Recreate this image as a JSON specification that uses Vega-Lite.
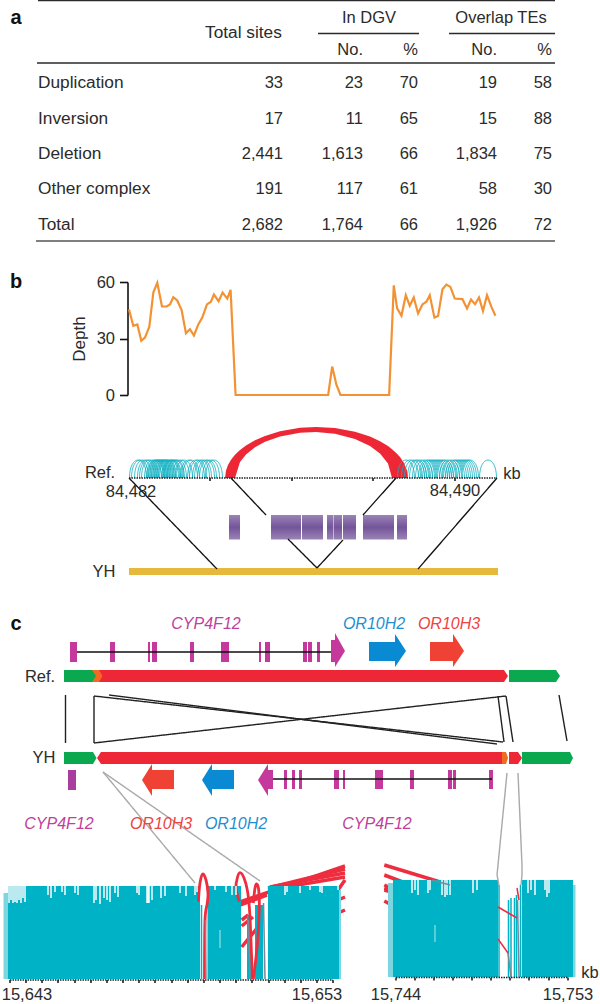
{"$schema":"https://vega.github.io/schema/vega-lite/v6.json","width":600,"height":1004,"padding":0,"autosize":{"type":"none"},"background":"white","config":{"view":{"stroke":null},"font":"Liberation Sans"},
"datasets":{
"ctext":[{"t":"In DGV","x":369,"y":18},{"t":"Overlap TEs","x":501,"y":18},{"t":"Ref.","x":100,"y":473},{"t":"84,482","x":131,"y":492},{"t":"84,490","x":455,"y":491},{"t":"kb","x":512,"y":474},{"t":"YH","x":104,"y":572},{"t":"Ref.","x":40,"y":677},{"t":"YH","x":44,"y":758},{"t":"15,643","x":27,"y":995},{"t":"15,653","x":317,"y":995},{"t":"15,744","x":396,"y":995},{"t":"15,753","x":568,"y":995},{"t":"kb","x":590,"y":973}],
"ltext":[{"t":"Total sites","x":205,"y":33},{"t":"Duplication","x":38,"y":83},{"t":"Inversion","x":38,"y":119},{"t":"Deletion","x":38,"y":154},{"t":"Other complex","x":38,"y":189},{"t":"Total","x":38,"y":225}],
"rtext":[{"t":"No.","x":363,"y":50},{"t":"%","x":418,"y":50},{"t":"No.","x":497,"y":50},{"t":"%","x":552,"y":50},
{"t":"33","x":283,"y":83},{"t":"23","x":363,"y":83},{"t":"70","x":418,"y":83},{"t":"19","x":497,"y":83},{"t":"58","x":552,"y":83},
{"t":"17","x":283,"y":119},{"t":"11","x":363,"y":119},{"t":"65","x":418,"y":119},{"t":"15","x":497,"y":119},{"t":"88","x":552,"y":119},
{"t":"2,441","x":283,"y":154},{"t":"1,613","x":363,"y":154},{"t":"66","x":418,"y":154},{"t":"1,834","x":497,"y":154},{"t":"75","x":552,"y":154},
{"t":"191","x":283,"y":189},{"t":"117","x":363,"y":189},{"t":"61","x":418,"y":189},{"t":"58","x":497,"y":189},{"t":"30","x":552,"y":189},
{"t":"2,682","x":283,"y":225},{"t":"1,764","x":363,"y":225},{"t":"66","x":418,"y":225},{"t":"1,926","x":497,"y":225},{"t":"72","x":552,"y":225}],
"btext":[{"t":"a","x":16,"y":18},{"t":"b","x":16,"y":282},{"t":"c","x":16,"y":624}],
"itext":[{"t":"CYP4F12","x":206,"y":624,"g":"m"},{"t":"OR10H2","x":374,"y":624,"g":"b"},{"t":"OR10H3","x":449,"y":624,"g":"r"},{"t":"CYP4F12","x":59,"y":824,"g":"m"},{"t":"OR10H3","x":161,"y":824,"g":"r"},{"t":"OR10H2","x":236,"y":824,"g":"b"},{"t":"CYP4F12","x":377,"y":824,"g":"m"}],
"depth":[{"kb":84482,"d":45.4},{"kb":84482.106,"d":36.7},{"kb":84482.205,"d":37.5},{"kb":84482.303,"d":28.8},{"kb":84482.393,"d":30.5},{"kb":84482.5,"d":36.3},{"kb":84482.598,"d":54.4},{"kb":84482.696,"d":59.6},{"kb":84482.811,"d":47},{"kb":84482.925,"d":47},{"kb":84483.007,"d":48.1},{"kb":84483.089,"d":51.9},{"kb":84483.187,"d":50.2},{"kb":84483.294,"d":45.1},{"kb":84483.4,"d":32.8},{"kb":84483.499,"d":34.9},{"kb":84483.597,"d":31.6},{"kb":84483.704,"d":37.5},{"kb":84483.802,"d":41.1},{"kb":84483.917,"d":48.1},{"kb":84484.015,"d":49.5},{"kb":84484.088,"d":53.3},{"kb":84484.203,"d":49.8},{"kb":84484.302,"d":54.4},{"kb":84484.416,"d":51.2},{"kb":84484.498,"d":55.8},{"kb":84484.621,"d":0},{"kb":84486.898,"d":0},{"kb":84486.996,"d":15.1},{"kb":84487.102,"d":5.3},{"kb":84487.2,"d":0},{"kb":84488.397,"d":0},{"kb":84488.511,"d":58.2},{"kb":84488.593,"d":46},{"kb":84488.7,"d":42.1},{"kb":84488.806,"d":53},{"kb":84488.904,"d":47.4},{"kb":84489.002,"d":51.8},{"kb":84489.108,"d":43.3},{"kb":84489.216,"d":48.1},{"kb":84489.314,"d":49.5},{"kb":84489.396,"d":53},{"kb":84489.51,"d":41.1},{"kb":84489.6,"d":41.9},{"kb":84489.708,"d":56.1},{"kb":84489.806,"d":58.6},{"kb":84489.904,"d":57.4},{"kb":84490.01,"d":51.2},{"kb":84490.199,"d":50.9},{"kb":84490.312,"d":46},{"kb":84490.41,"d":50.7},{"kb":84490.509,"d":48.2},{"kb":84490.607,"d":51.8},{"kb":84490.705,"d":44.6},{"kb":84490.803,"d":53},{"kb":84490.912,"d":46.8},{"kb":84491.01,"d":42.1}],
"arcs":[{"x":138,"y":478},{"x":140,"y":478},{"x":143,"y":478},{"x":146,"y":478},{"x":148,"y":478},{"x":150,"y":478},{"x":153,"y":478},{"x":155,"y":478},{"x":156,"y":478},{"x":157,"y":478},{"x":158,"y":478},{"x":159,"y":478},{"x":160,"y":478},{"x":161,"y":478},{"x":162,"y":478},{"x":163,"y":478},{"x":164,"y":478},{"x":165,"y":478},{"x":166,"y":478},{"x":167,"y":478},{"x":168,"y":478},{"x":170,"y":478},{"x":171,"y":478},{"x":172,"y":478},{"x":173,"y":478},{"x":175,"y":478},{"x":176,"y":478},{"x":178,"y":478},{"x":181,"y":478},{"x":184,"y":478},{"x":189,"y":478},{"x":191,"y":478},{"x":196,"y":478},{"x":198,"y":478},{"x":201,"y":478},{"x":203,"y":478},{"x":206,"y":478},{"x":208,"y":478},{"x":211,"y":478},{"x":214,"y":478},{"x":406,"y":478},{"x":410,"y":478},{"x":413,"y":478},{"x":416,"y":478},{"x":418,"y":478},{"x":421,"y":478},{"x":424,"y":478},{"x":427,"y":478},{"x":429,"y":478},{"x":431,"y":478},{"x":433,"y":478},{"x":435,"y":478},{"x":437,"y":478},{"x":439,"y":478},{"x":441,"y":478},{"x":443,"y":478},{"x":445,"y":478},{"x":448,"y":478},{"x":451,"y":478},{"x":454,"y":478},{"x":456,"y":478},{"x":458,"y":478},{"x":460,"y":478},{"x":462,"y":478},{"x":464,"y":478},{"x":466,"y":478},{"x":468,"y":478},{"x":470,"y":478},{"x":488,"y":478}],
"shapes":[
{"id":"arch","p":"red","x":225,"y":478,"y2":478},{"id":"arch","p":"red","x":226,"y":470.4,"y2":478},{"id":"arch","p":"red","x":228,"y":465,"y2":478},{"id":"arch","p":"red","x":231,"y":459.8,"y2":478},{"id":"arch","p":"red","x":235,"y":454.8,"y2":478},{"id":"arch","p":"red","x":240,"y":450,"y2":461.9},{"id":"arch","p":"red","x":246,"y":445.5,"y2":454.5},{"id":"arch","p":"red","x":255,"y":440.2,"y2":447.3},{"id":"arch","p":"red","x":265,"y":435.9,"y2":441.8},{"id":"arch","p":"red","x":280,"y":431.2,"y2":436.4},{"id":"arch","p":"red","x":300,"y":427.8,"y2":432.7},{"id":"arch","p":"red","x":316,"y":427,"y2":432},{"id":"arch","p":"red","x":335,"y":428,"y2":433.7},{"id":"arch","p":"red","x":355,"y":431.7,"y2":439},{"id":"arch","p":"red","x":370,"y":436.6,"y2":446},{"id":"arch","p":"red","x":380,"y":441.3,"y2":453.6},{"id":"arch","p":"red","x":388,"y":446.1,"y2":463.5},{"id":"arch","p":"red","x":392,"y":449.2,"y2":478},{"id":"arch","p":"red","x":396,"y":452.8,"y2":478},{"id":"arch","p":"red","x":400,"y":457.1,"y2":478},{"id":"arch","p":"red","x":404,"y":463,"y2":478},{"id":"arch","p":"red","x":407,"y":470.4,"y2":478},{"id":"arch","p":"red","x":408,"y":478,"y2":478},
{"id":"rr","p":"red","x":99,"y":670,"y2":682},{"id":"rr","p":"red","x":504,"y":670,"y2":682},{"id":"rr","p":"red","x":508,"y":676,"y2":676},
{"id":"ro","p":"orange","x":92,"y":670,"y2":682},{"id":"ro","p":"orange","x":99,"y":670,"y2":682},{"id":"ro","p":"orange","x":102.5,"y":676,"y2":676},
{"id":"rg1","p":"green","x":64,"y":670,"y2":682},{"id":"rg1","p":"green","x":92,"y":670,"y2":682},{"id":"rg1","p":"green","x":96,"y":676,"y2":676},
{"id":"rg2","p":"green","x":509,"y":670,"y2":682},{"id":"rg2","p":"green","x":556,"y":670,"y2":682},{"id":"rg2","p":"green","x":560,"y":676,"y2":676},
{"id":"yr","p":"red","x":97,"y":758,"y2":758},{"id":"yr","p":"red","x":101,"y":752,"y2":764},{"id":"yr","p":"red","x":502,"y":752,"y2":764},
{"id":"yo","p":"orange","x":502,"y":752,"y2":764},{"id":"yo","p":"orange","x":506,"y":752,"y2":764},{"id":"yo","p":"orange","x":508,"y":758,"y2":758},
{"id":"yr2","p":"red","x":509,"y":752,"y2":764},{"id":"yr2","p":"red","x":518,"y":752,"y2":764},{"id":"yr2","p":"red","x":522,"y":758,"y2":758},
{"id":"yg1","p":"green","x":64,"y":752,"y2":764},{"id":"yg1","p":"green","x":93,"y":752,"y2":764},{"id":"yg1","p":"green","x":96.5,"y":758,"y2":758},
{"id":"yg2","p":"green","x":522,"y":752,"y2":764},{"id":"yg2","p":"green","x":570,"y":752,"y2":764},{"id":"yg2","p":"green","x":573,"y":758,"y2":758},
{"id":"a1","p":"magenta","x":331,"y":640,"y2":662},{"id":"a1","p":"magenta","x":335,"y":640,"y2":662},{"id":"a1","p":"magenta","x":335,"y":633,"y2":667},{"id":"a1","p":"magenta","x":345,"y":651,"y2":651},
{"id":"a2","p":"blue","x":369,"y":642,"y2":661},{"id":"a2","p":"blue","x":395,"y":642,"y2":661},{"id":"a2","p":"blue","x":395,"y":634,"y2":667},{"id":"a2","p":"blue","x":406,"y":651,"y2":651},
{"id":"a3","p":"tomato","x":430,"y":642,"y2":661},{"id":"a3","p":"tomato","x":453,"y":642,"y2":661},{"id":"a3","p":"tomato","x":453,"y":634,"y2":667},{"id":"a3","p":"tomato","x":464,"y":651,"y2":651},
{"id":"a4","p":"tomato","x":142,"y":780,"y2":780},{"id":"a4","p":"tomato","x":152,"y":764,"y2":796},{"id":"a4","p":"tomato","x":152,"y":770,"y2":789},{"id":"a4","p":"tomato","x":174,"y":770,"y2":789},
{"id":"a5","p":"blue","x":202,"y":780,"y2":780},{"id":"a5","p":"blue","x":212,"y":764,"y2":796},{"id":"a5","p":"blue","x":212,"y":770,"y2":789},{"id":"a5","p":"blue","x":234,"y":770,"y2":789},
{"id":"a6","p":"magenta","x":258,"y":780,"y2":780},{"id":"a6","p":"magenta","x":268,"y":764,"y2":796},{"id":"a6","p":"magenta","x":268,"y":770,"y2":789},{"id":"a6","p":"magenta","x":273,"y":770,"y2":789}],
"purple":[{"x":229,"x2":240,"y":515,"y2":539.5},{"x":271,"x2":301,"y":515,"y2":539.5},{"x":302,"x2":323,"y":515,"y2":539.5},{"x":327,"x2":333,"y":515,"y2":539.5},{"x":333.5,"x2":342,"y":515,"y2":539.5},{"x":343,"x2":356,"y":515,"y2":539.5},{"x":363,"x2":394,"y":515,"y2":539.5},{"x":397,"x2":407,"y":515,"y2":539.5}],
"boxes":[{"x":129,"x2":498,"y":568,"y2":575,"k":"yh"},
{"x":70,"x2":77,"y":642,"y2":662,"k":"mag"},{"x":110,"x2":115,"y":642,"y2":662,"k":"mag"},{"x":148,"x2":150,"y":642,"y2":662,"k":"mag"},{"x":152,"x2":157,"y":642,"y2":662,"k":"mag"},{"x":190,"x2":194,"y":642,"y2":662,"k":"mag"},{"x":221,"x2":229,"y":642,"y2":662,"k":"mag"},{"x":259,"x2":261,"y":642,"y2":662,"k":"mag"},{"x":265,"x2":270,"y":642,"y2":662,"k":"mag"},{"x":303,"x2":307,"y":642,"y2":662,"k":"mag"},{"x":308,"x2":312,"y":642,"y2":662,"k":"mag"},{"x":317,"x2":320,"y":642,"y2":662,"k":"mag"},
{"x":68,"x2":76,"y":770,"y2":790,"k":"mag2"},{"x":284,"x2":287,"y":770,"y2":789,"k":"mag"},{"x":292,"x2":295,"y":770,"y2":789,"k":"mag"},{"x":299,"x2":302,"y":770,"y2":789,"k":"mag"},{"x":334,"x2":339,"y":770,"y2":789,"k":"mag"},{"x":343,"x2":345,"y":770,"y2":789,"k":"mag"},{"x":375,"x2":383,"y":770,"y2":789,"k":"mag"},{"x":410,"x2":414,"y":770,"y2":789,"k":"mag"},{"x":448,"x2":452,"y":770,"y2":789,"k":"mag"},{"x":453,"x2":456,"y":770,"y2":789,"k":"mag"},{"x":489,"x2":493,"y":770,"y2":789,"k":"mag"},
{"x":3.5,"x2":8,"y":893,"y2":979,"k":"light"},{"x":8,"x2":200,"y":886,"y2":979,"k":"teal"},{"x":207.5,"x2":241,"y":886,"y2":979,"k":"teal"},{"x":247,"x2":251,"y":915,"y2":979,"k":"teal"},{"x":255,"x2":263,"y":905,"y2":979,"k":"teal"},{"x":268,"x2":339,"y":886,"y2":979,"k":"teal"},{"x":339,"x2":341,"y":890,"y2":979,"k":"light"},
{"x":388,"x2":393,"y":883,"y2":977,"k":"light"},{"x":393,"x2":498,"y":880,"y2":977,"k":"teal"},{"x":522,"x2":573,"y":880,"y2":977,"k":"teal"},{"x":573,"x2":575.5,"y":885,"y2":977,"k":"light"}],
"under":[{"x":240.7,"x2":345,"y":901.7,"y2":866},{"x":268,"x2":345,"y":888,"y2":869},{"x":240,"x2":267,"y":905,"y2":895},{"x":270,"x2":345,"y":887,"y2":873},{"x":268,"x2":345,"y":890,"y2":877},{"x":338,"x2":345,"y":890,"y2":880},{"x":338,"x2":345,"y":900,"y2":897},{"x":338,"x2":345,"y":913,"y2":910},{"x":241.7,"x2":248.3,"y":920,"y2":915},{"x":241.7,"x2":253,"y":926,"y2":917},{"x":241.7,"x2":258,"y":947,"y2":927},{"x":384.3,"x2":450,"y":865,"y2":885},{"x":384.3,"x2":431.7,"y":875,"y2":893},{"x":384.3,"x2":395,"y":885,"y2":890},{"x":384.3,"x2":395,"y":888,"y2":891},{"x":384.3,"x2":395,"y":890,"y2":893},{"x":384.3,"x2":391.7,"y":901,"y2":905}],
"rules":[
{"x":38,"x2":555,"y":0.5,"y2":0.5,"k":"table"},{"x":318,"x2":419,"y":33.5,"y2":33.5,"k":"table"},{"x":449,"x2":555,"y":33.5,"y2":33.5,"k":"table"},{"x":37,"x2":555,"y":63,"y2":63,"k":"table"},{"x":36,"x2":555,"y":241,"y2":241,"k":"tableb"},
{"x":129,"x2":217,"y":478,"y2":569,"k":"conn"},{"x":231,"x2":266,"y":478,"y2":515,"k":"conn"},{"x":288,"x2":317,"y":539,"y2":568,"k":"conn"},{"x":317,"x2":343,"y":568,"y2":540,"k":"conn"},{"x":396,"x2":363,"y":478,"y2":515,"k":"conn"},{"x":497,"x2":418,"y":478,"y2":569,"k":"conn"},
{"x":77,"x2":331,"y":652,"y2":652,"k":"intron"},{"x":273,"x2":492,"y":779,"y2":779,"k":"intron"},
{"x":65.5,"x2":65.5,"y":695,"y2":743,"k":"thin"},{"x":94,"x2":94,"y":743,"y2":696,"k":"thin"},{"x":94,"x2":503,"y":696,"y2":742,"k":"thin"},{"x":94,"x2":506,"y":743,"y2":696,"k":"thin"},{"x":506,"x2":513,"y":696,"y2":742,"k":"thin"},{"x":109,"x2":497,"y":695,"y2":744,"k":"thin"},{"x":498,"x2":504,"y":696,"y2":742,"k":"thin"},{"x":559,"x2":567,"y":695,"y2":741,"k":"thin"},
{"x":103,"x2":195,"y":772,"y2":883,"k":"gray"},{"x":103,"x2":260,"y":772,"y2":881,"k":"gray"},{"x":507,"x2":498,"y":773,"y2":865,"k":"gray"},{"x":498,"x2":497,"y":865,"y2":875,"k":"gray"},{"x":497,"x2":499,"y":875,"y2":885,"k":"gray"},{"x":518,"x2":522,"y":773,"y2":865,"k":"gray"},{"x":522,"x2":522,"y":865,"y2":875,"k":"gray"},{"x":522,"x2":521,"y":875,"y2":885,"k":"gray"},
{"x":9,"x2":9,"y":886,"y2":903,"k":"white"},{"x":11,"x2":11,"y":886,"y2":900,"k":"white"},{"x":13,"x2":13,"y":886,"y2":903,"k":"white"},{"x":15,"x2":15,"y":886,"y2":902,"k":"white"},{"x":17,"x2":17,"y":886,"y2":903,"k":"white"},{"x":19,"x2":19,"y":886,"y2":900,"k":"white"},{"x":21,"x2":21,"y":886,"y2":903,"k":"white"},{"x":23,"x2":23,"y":886,"y2":898,"k":"white"},{"x":25,"x2":25,"y":886,"y2":902,"k":"white"},{"x":48,"x2":48,"y":886,"y2":895,"k":"white"},{"x":51,"x2":51,"y":886,"y2":898,"k":"white"},{"x":55,"x2":55,"y":886,"y2":892,"k":"white"},{"x":62,"x2":62,"y":886,"y2":892,"k":"white"},{"x":65,"x2":65,"y":886,"y2":895,"k":"white"},{"x":75,"x2":75,"y":886,"y2":893,"k":"white"},{"x":78,"x2":78,"y":886,"y2":895,"k":"white"},{"x":94,"x2":94,"y":886,"y2":903,"k":"white"},{"x":96,"x2":96,"y":886,"y2":900,"k":"white"},{"x":100,"x2":100,"y":886,"y2":904,"k":"white"},{"x":104,"x2":104,"y":886,"y2":898,"k":"white"},{"x":107,"x2":107,"y":886,"y2":900,"k":"white"},{"x":110,"x2":110,"y":886,"y2":902,"k":"white"},{"x":115,"x2":115,"y":886,"y2":893,"k":"white"},{"x":118,"x2":118,"y":886,"y2":897,"k":"white"},{"x":137,"x2":137,"y":886,"y2":893,"k":"white"},{"x":139,"x2":139,"y":886,"y2":895,"k":"white"},{"x":147,"x2":147,"y":886,"y2":903,"k":"white"},{"x":148,"x2":148,"y":886,"y2":903,"k":"white"},{"x":149,"x2":149,"y":886,"y2":903,"k":"white"},{"x":152,"x2":152,"y":886,"y2":900,"k":"white"},{"x":161,"x2":161,"y":886,"y2":898,"k":"white"},{"x":165,"x2":165,"y":886,"y2":896,"k":"white"},{"x":180,"x2":180,"y":886,"y2":893,"k":"white"},{"x":186,"x2":186,"y":886,"y2":896,"k":"white"},{"x":195,"x2":195,"y":886,"y2":895,"k":"white"},{"x":197,"x2":197,"y":886,"y2":892,"k":"white"},{"x":215,"x2":215,"y":886,"y2":890,"k":"white"},{"x":226,"x2":226,"y":886,"y2":892,"k":"white"},{"x":232,"x2":232,"y":886,"y2":895,"k":"white"},{"x":236,"x2":236,"y":886,"y2":895,"k":"white"},{"x":285,"x2":285,"y":886,"y2":895,"k":"white"},{"x":287,"x2":287,"y":886,"y2":892,"k":"white"},{"x":300,"x2":300,"y":886,"y2":893,"k":"white"},{"x":310,"x2":310,"y":886,"y2":890,"k":"white"},{"x":320,"x2":320,"y":886,"y2":892,"k":"white"},{"x":322,"x2":322,"y":886,"y2":893,"k":"white"},{"x":338,"x2":338,"y":886,"y2":890,"k":"white"},
{"x":412,"x2":412,"y":880,"y2":893,"k":"white"},{"x":415,"x2":415,"y":880,"y2":890,"k":"white"},{"x":418,"x2":418,"y":880,"y2":895,"k":"white"},{"x":428,"x2":428,"y":880,"y2":893,"k":"white"},{"x":430,"x2":430,"y":880,"y2":890,"k":"white"},{"x":442,"x2":442,"y":880,"y2":895,"k":"white"},{"x":445,"x2":445,"y":880,"y2":897,"k":"white"},{"x":447,"x2":447,"y":880,"y2":895,"k":"white"},{"x":450,"x2":450,"y":880,"y2":895,"k":"white"},{"x":473,"x2":473,"y":880,"y2":893,"k":"white"},{"x":477,"x2":477,"y":880,"y2":890,"k":"white"},{"x":528,"x2":528,"y":880,"y2":893,"k":"white"},{"x":531,"x2":531,"y":880,"y2":890,"k":"white"},{"x":535,"x2":535,"y":880,"y2":895,"k":"white"},{"x":545,"x2":545,"y":880,"y2":890,"k":"white"},{"x":547,"x2":547,"y":880,"y2":897,"k":"white"},{"x":549,"x2":549,"y":880,"y2":893,"k":"white"},{"x":435,"x2":435,"y":925,"y2":942,"k":"light2"},{"x":220,"x2":220,"y":930,"y2":948,"k":"light2"},
{"x":201.5,"x2":201.5,"y":905,"y2":979,"k":"tthin"},{"x":499,"x2":499,"y":885,"y2":977,"k":"tthin"},{"x":508.5,"x2":508.5,"y":900,"y2":977,"k":"tthin"},{"x":511,"x2":511,"y":898,"y2":977,"k":"tthin"},{"x":514.5,"x2":514.5,"y":898,"y2":977,"k":"tthin"},{"x":516.5,"x2":516.5,"y":895,"y2":977,"k":"tthin"},{"x":520.5,"x2":520.5,"y":885,"y2":977,"k":"tthin"},
{"x":432,"x2":450,"y":880,"y2":885,"k":"gline"},{"x":248.5,"x2":250,"y":920,"y2":979,"k":"gline"},{"x":263.5,"x2":265,"y":903,"y2":979,"k":"gline"},{"x":205.5,"x2":206,"y":920,"y2":979,"k":"gline"},{"x":498,"x2":517,"y":907,"y2":918,"k":"rthin"},{"x":498,"x2":508,"y":939,"y2":953,"k":"rthin"},{"x":508,"x2":511,"y":953,"y2":977,"k":"gline"},{"x":517,"x2":519,"y":888,"y2":900,"k":"rthin"},{"x":517.5,"x2":519,"y":900,"y2":977,"k":"gline"},
{"x":129,"x2":497,"y":478,"y2":478,"k":"dot"},{"x":10,"x2":333,"y":980,"y2":980,"k":"dot"},{"x":396,"x2":568,"y":977.5,"y2":977.5,"k":"dot"},
{"x":210,"x2":210,"y":478,"y2":481,"k":"tick"},{"x":292,"x2":292,"y":478,"y2":481,"k":"tick"},{"x":373,"x2":373,"y":478,"y2":481,"k":"tick"},{"x":455,"x2":455,"y":478,"y2":481,"k":"tick"},
{"x":10,"x2":10,"y":980,"y2":983,"k":"tick"},{"x":26,"x2":26,"y":980,"y2":983,"k":"tick"},{"x":42,"x2":42,"y":980,"y2":983,"k":"tick"},{"x":58,"x2":58,"y":980,"y2":983,"k":"tick"},{"x":75,"x2":75,"y":980,"y2":983,"k":"tick"},{"x":91,"x2":91,"y":980,"y2":983,"k":"tick"},{"x":107,"x2":107,"y":980,"y2":983,"k":"tick"},{"x":123,"x2":123,"y":980,"y2":983,"k":"tick"},{"x":139,"x2":139,"y":980,"y2":983,"k":"tick"},{"x":155,"x2":155,"y":980,"y2":983,"k":"tick"},{"x":172,"x2":172,"y":980,"y2":983,"k":"tick"},{"x":188,"x2":188,"y":980,"y2":983,"k":"tick"},{"x":204,"x2":204,"y":980,"y2":983,"k":"tick"},{"x":220,"x2":220,"y":980,"y2":983,"k":"tick"},{"x":236,"x2":236,"y":980,"y2":983,"k":"tick"},{"x":252,"x2":252,"y":980,"y2":983,"k":"tick"},{"x":269,"x2":269,"y":980,"y2":983,"k":"tick"},{"x":285,"x2":285,"y":980,"y2":983,"k":"tick"},{"x":301,"x2":301,"y":980,"y2":983,"k":"tick"},{"x":317,"x2":317,"y":980,"y2":983,"k":"tick"},{"x":333,"x2":333,"y":980,"y2":983,"k":"tick"},
{"x":396,"x2":396,"y":977.5,"y2":980.5,"k":"tick"},{"x":415,"x2":415,"y":977.5,"y2":980.5,"k":"tick"},{"x":434,"x2":434,"y":977.5,"y2":980.5,"k":"tick"},{"x":453,"x2":453,"y":977.5,"y2":980.5,"k":"tick"},{"x":472,"x2":472,"y":977.5,"y2":980.5,"k":"tick"},{"x":491,"x2":491,"y":977.5,"y2":980.5,"k":"tick"},{"x":510,"x2":510,"y":977.5,"y2":980.5,"k":"tick"},{"x":529,"x2":529,"y":977.5,"y2":980.5,"k":"tick"},{"x":549,"x2":549,"y":977.5,"y2":980.5,"k":"tick"},{"x":568,"x2":568,"y":977.5,"y2":980.5,"k":"tick"}],
"curves":[
{"id":"a1","i":1,"x":198.3,"y":901.7},{"id":"a1","i":2,"x":200,"y":883},{"id":"a1","i":3,"x":202.7,"y":874},{"id":"a1","i":4,"x":206,"y":880},{"id":"a1","i":5,"x":208,"y":893},{"id":"a1","i":6,"x":207.3,"y":903},{"id":"a1","i":7,"x":205,"y":920},{"id":"a1","i":8,"x":204.5,"y":979},
{"id":"a2","i":1,"x":239.3,"y":901.7},{"id":"a2","i":2,"x":236,"y":888},{"id":"a2","i":3,"x":237.3,"y":878},{"id":"a2","i":4,"x":240,"y":872.7},{"id":"a2","i":5,"x":244,"y":878},{"id":"a2","i":6,"x":247.3,"y":890},{"id":"a2","i":7,"x":249.3,"y":906.7},{"id":"a2","i":8,"x":250.7,"y":933},{"id":"a2","i":9,"x":252.3,"y":979},
{"id":"a3","i":1,"x":253.3,"y":903},{"id":"a3","i":2,"x":255,"y":888},{"id":"a3","i":3,"x":256.7,"y":884},{"id":"a3","i":4,"x":258.7,"y":890},{"id":"a3","i":5,"x":259.3,"y":906.7},{"id":"a3","i":6,"x":257.5,"y":943},{"id":"a3","i":7,"x":253.3,"y":979}]
},
"resolve":{"scale":{"x":"independent","y":"independent"},"axis":{"x":"independent","y":"independent"}},
"layer":[
{"resolve":{"scale":{"color":"independent","strokeWidth":"independent","strokeDash":"independent"}},"encoding":{"x":{"field":"x","type":"quantitative","axis":null,"scale":{"domain":[0,600],"nice":false,"zero":false}},"y":{"field":"y","type":"quantitative","axis":null,"scale":{"domain":[0,1004],"reverse":true,"nice":false,"zero":false}}},
"layer":[
{"data":{"name":"shapes"},"mark":{"type":"area","opacity":1},"encoding":{"y2":{"field":"y2"},"detail":{"field":"id"},"color":{"field":"p","type":"nominal","legend":null,"scale":{"domain":["red","orange","green","magenta","blue","tomato"],"range":["#ee2737","#f26a22","#0aa84f","#c6399c","#0a8ad2","#f04234"]}}}},
{"data":{"name":"arcs"},"mark":{"type":"point","shape":"M-1,0C-1,-2.82,1,-2.82,1,0","size":289,"filled":false,"stroke":"#0fb0c2","strokeWidth":0.8,"opacity":1}},
{"data":{"name":"under"},"mark":{"type":"rule","stroke":"#ee2d3f","strokeWidth":3.5},"encoding":{"x2":{"field":"x2"},"y2":{"field":"y2"}}},
{"data":{"name":"purple"},"mark":{"type":"rect","fill":{"gradient":"linear","x1":0,"y1":0,"x2":0,"y2":1,"stops":[{"offset":0,"color":"#9a84b5"},{"offset":0.5,"color":"#74549a"},{"offset":1,"color":"#9a84b5"}]}},"encoding":{"x2":{"field":"x2"},"y2":{"field":"y2"}}},
{"data":{"name":"boxes"},"mark":{"type":"rect"},"encoding":{"x2":{"field":"x2"},"y2":{"field":"y2"},"color":{"field":"k","type":"nominal","legend":null,"scale":{"domain":["yh","mag","mag2","teal","light"],"range":["#e6b93c","#c6399c","#aa3da0","#00b2c5","#7bd6df"]}}}},
{"data":{"name":"curves"},"mark":{"type":"line","interpolate":"cardinal","stroke":"#ee2d3f","strokeWidth":2.8},"encoding":{"detail":{"field":"id"},"order":{"field":"i"}}},
{"data":{"name":"rules"},"mark":{"type":"rule"},"encoding":{"x2":{"field":"x2"},"y2":{"field":"y2"},
"color":{"field":"k","type":"nominal","legend":null,"scale":{"domain":["table","tableb","conn","intron","thin","gray","white","light2","tthin","gline","rthin","dot","tick"],"range":["#2b2b2b","#555555","#111111","#111111","#222222","#aaaaaa","#ffffff","#7bd6df","#00b2c5","#7c8894","#ee2d3f","#222222","#222222"]}},
"strokeWidth":{"field":"k","type":"nominal","legend":null,"scale":{"domain":["table","tableb","conn","intron","thin","gray","white","light2","tthin","gline","rthin","dot","tick"],"range":[1.3,1.6,1.8,2.2,0.9,0.7,0.9,1,0.8,2,2.5,1.5,0.8]}},
"strokeDash":{"field":"k","type":"nominal","legend":null,"scale":{"domain":["table","tableb","conn","intron","thin","gray","white","light2","tthin","gline","rthin","dot","tick"],"range":[[1,0],[1,0],[1,0],[1,0],[1,0],[1,0],[1,0],[1,0],[1,0],[1,0],[1,0],[1.5,1],[1,0]]}}}},
{"data":{"name":"ctext"},"mark":{"type":"text","fontSize":16.5,"align":"center","baseline":"middle","fill":"#2b2b2b"},"encoding":{"text":{"field":"t"}}},
{"data":{"name":"ltext"},"mark":{"type":"text","fontSize":17.3,"align":"left","baseline":"middle","fill":"#2b2b2b"},"encoding":{"text":{"field":"t"}}},
{"data":{"name":"rtext"},"mark":{"type":"text","fontSize":16.5,"align":"right","baseline":"middle","fill":"#2b2b2b"},"encoding":{"text":{"field":"t"}}},
{"data":{"name":"btext"},"mark":{"type":"text","fontSize":20,"fontWeight":"bold","align":"center","baseline":"middle","fill":"#111111"},"encoding":{"text":{"field":"t"}}},
{"data":{"name":"itext"},"mark":{"type":"text","fontSize":16,"fontStyle":"italic","align":"center","baseline":"middle"},"encoding":{"text":{"field":"t"},"color":{"field":"g","type":"nominal","legend":null,"scale":{"domain":["m","b","r"],"range":["#c0409a","#1f8fd0","#ee4444"]}}}}
]},
{"data":{"name":"depth"},"mark":{"type":"line","stroke":"#f29233","strokeWidth":2.2},"encoding":{
"x":{"field":"kb","type":"quantitative","axis":null,"scale":{"domain":[84482,84491],"range":[129,495],"nice":false,"zero":false}},
"y":{"field":"d","type":"quantitative","scale":{"domain":[0,60],"range":[395,282],"nice":false},"axis":{"orient":"left","offset":-127.5,"values":[0,30,60],"title":"Depth","titleFont":"Liberation Sans","titleFontSize":17,"titleFontWeight":"normal","titleColor":"#2b2b2b","titlePadding":8,"labelFont":"Liberation Sans","labelFontSize":16.5,"labelColor":"#2b2b2b","labelPadding":5,"tickSize":8,"tickColor":"#111111","tickWidth":1.6,"domainColor":"#111111","domainWidth":1.6,"grid":false}}}}
]}
